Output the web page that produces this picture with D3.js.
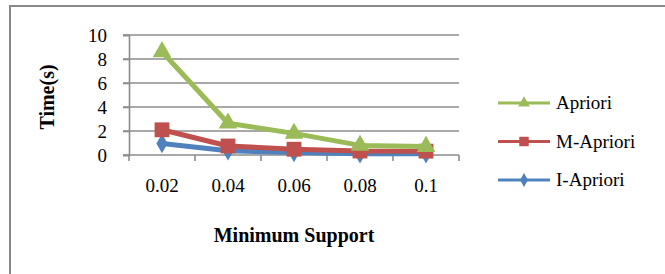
<!DOCTYPE html>
<html><head><meta charset="utf-8">
<script src="https://cdn.jsdelivr.net/npm/d3@7"></script>
<style>body{margin:0;background:#fff}svg{display:block}</style>
</head><body>
<script>
const categories = ["0.02", "0.04", "0.06", "0.08", "0.1"];
const apriori = [8.6, 2.65, 1.8, 0.8, 0.7];
const mApriori = [2.1, 0.75, 0.48, 0.33, 0.32];
const iApriori = [0.95, 0.36, 0.2, 0.1, 0.1];
const yTicks = [0, 2, 4, 6, 8, 10];
const seriesNames = ["Apriori", "M-Apriori", "I-Apriori"];

const W = 665, H = 274;
const font = "'Liberation Serif','Times New Roman',serif";
const svg = d3.select("body").append("svg").attr("width", W).attr("height", H);

// outer border (only top/left visible)
svg.append("rect").attr("x", 10).attr("y", 6).attr("width", 700).attr("height", 300)
  .attr("fill", "none").attr("stroke", "#898989").attr("stroke-width", 2);

const x = d3.scaleBand().domain(categories).range([129, 459]);
const y = d3.scaleLinear().domain([0, 10]).range([155, 35]);

// gridlines
svg.append("g").selectAll("line").data(yTicks.filter(d => d > 0)).join("line")
  .attr("x1", 123).attr("x2", 459).attr("y1", d => y(d)).attr("y2", d => y(d))
  .attr("stroke", "#8c8c8c").attr("stroke-width", 1.6);

// y axis
const yAxis = svg.append("g").attr("transform", "translate(129,0)")
  .call(d3.axisLeft(y).tickValues(yTicks).tickSize(6).tickPadding(16));
yAxis.select(".domain").attr("stroke", "#8c8c8c").attr("stroke-width", 1.6);
yAxis.selectAll(".tick line").attr("stroke", "#8c8c8c").attr("stroke-width", 1.6);
yAxis.selectAll("text").attr("font-family", font).attr("font-size", 19).attr("fill", "#000");

// x axis
const xAxis = svg.append("g").attr("transform", "translate(0,155)")
  .call(d3.axisBottom(x).tickSize(0).tickPadding(24));
xAxis.select(".domain").remove();
xAxis.selectAll("text").attr("font-family", font).attr("font-size", 19).attr("fill", "#000");
svg.append("line").attr("x1", 123).attr("x2", 459).attr("y1", y(0)).attr("y2", y(0))
  .attr("stroke", "#8c8c8c").attr("stroke-width", 1.6);
const edges = categories.map(c => x(c)).concat([x.range()[1]]);
svg.append("g").selectAll("line").data(edges).join("line")
  .attr("x1", d => d).attr("x2", d => d).attr("y1", y(0)).attr("y2", y(0) + 6)
  .attr("stroke", "#8c8c8c").attr("stroke-width", 1.6);

// axis titles
svg.append("text").attr("x", 294).attr("y", 242).attr("text-anchor", "middle")
  .attr("font-family", font).attr("font-weight", "bold").attr("font-size", 20).text("Minimum Support");
svg.append("text").attr("transform", "translate(54,97) rotate(-90)").attr("text-anchor", "middle")
  .attr("font-family", font).attr("font-weight", "bold").attr("font-size", 20).text("Time(s)");

const series = [
  {name: "I-Apriori", values: iApriori, color: "#4F81BD", shape: d3.symbolDiamond, size: 110, lsize: 55},
  {name: "M-Apriori", values: mApriori, color: "#C0504D", shape: d3.symbolSquare, size: 220, lsize: 90},
  {name: "Apriori", values: apriori, color: "#9BBB59", shape: d3.symbolTriangle, size: 150, lsize: 60}
];
const cx = c => x(c) + x.bandwidth() / 2;
const line = d3.line().x((d, i) => cx(categories[i])).y(d => y(d));

series.forEach(s => {
  svg.append("path").attr("d", line(s.values)).attr("fill", "none")
    .attr("stroke", s.color).attr("stroke-width", 5).attr("stroke-linejoin", "round");
  svg.append("g").selectAll("path").data(s.values).join("path")
    .attr("transform", (d, i) => `translate(${cx(categories[i])},${y(d)})`)
    .attr("d", d3.symbol().type(s.shape).size(s.size)).attr("fill", s.color);
});

// legend
const legY = {"Apriori": 103, "M-Apriori": 141.5, "I-Apriori": 180};
seriesNames.forEach(n => {
  const s = series.find(q => q.name === n);
  const g = svg.append("g").attr("transform", `translate(0,${legY[n]})`);
  g.append("line").attr("x1", 498).attr("x2", 550).attr("stroke", s.color).attr("stroke-width", 3);
  g.append("path").attr("transform", "translate(524,0)")
    .attr("d", d3.symbol().type(s.shape).size(s.lsize)).attr("fill", s.color);
  g.append("text").attr("x", 556).attr("y", 6).attr("font-family", font).attr("font-size", 19)
    .attr("fill", "#000").text(n);
});
</script>
</body></html>
